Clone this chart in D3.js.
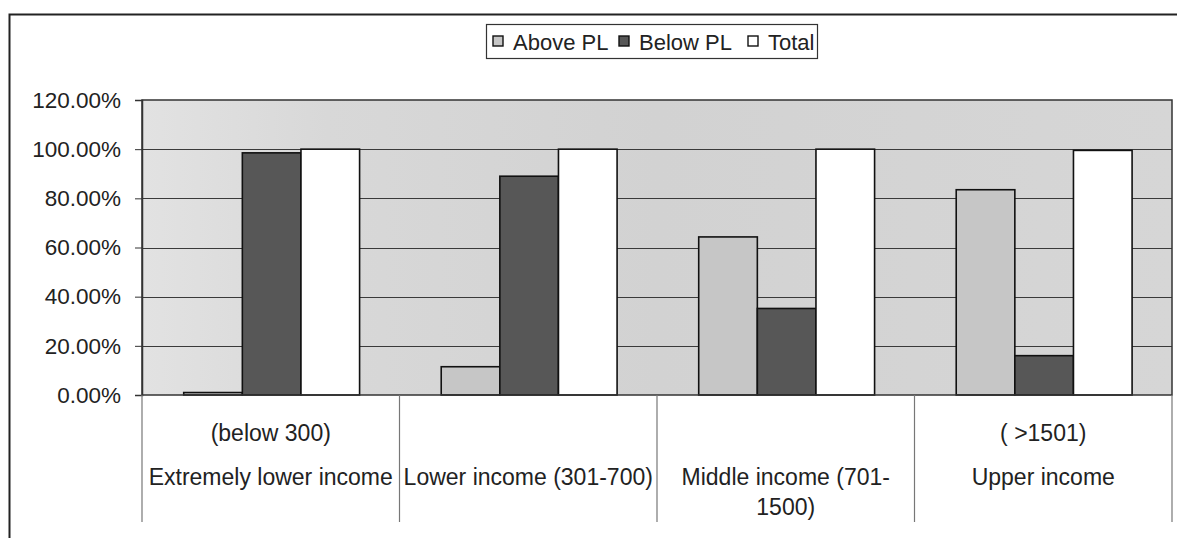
<!DOCTYPE html>
<html>
<head>
<meta charset="utf-8">
<script src="https://cdn.jsdelivr.net/npm/d3@7"></script>
<style>
  body { margin: 0; background: #fff; }
  text { font-family: "Liberation Sans", Arial, sans-serif; fill: #222; }
</style>
</head>
<body>
<div class="chart"></div>
<script>
// data
var categories = ["Extremely lower income (below 300)", "Lower income (301-700)", "Middle income (701-1500)", "Upper income ( >1501)"];
// the axis labels are wrapped oddly in the original, so keep the lines as shown
var categoryLines = [
  [["(below 300)", 0], ["Extremely lower income", 1]],
  [["Lower income (301-700)", 1]],
  [["Middle income (701-", 1], ["1500)", 2]],
  [["( >1501)", 0], ["Upper income", 1]]
];
var seriesNames = ["Above PL", "Below PL", "Total"];
var abovePL = [0.01, 0.115, 0.643, 0.835];
var belowPL = [0.985, 0.89, 0.352, 0.16];
var total = [1.0, 1.0, 1.0, 0.995];
var yTicks = [0, 0.2, 0.4, 0.6, 0.8, 1.0, 1.2];

var seriesValues = [abovePL, belowPL, total];
var colors = ["#c6c6c6", "#575757", "#ffffff"];

var svgWidth = 1177, svgHeight = 538;
var margin = { top: 100, right: 5, bottom: 143, left: 142 };
var chartWidth = 1172 - margin.left;
var chartHeight = svgHeight - margin.top - margin.bottom;

var svg = d3.select(".chart")
  .append("svg")
  .attr("width", svgWidth)
  .attr("height", svgHeight);

// outer frame (only top and left edges show in the scan)
svg.append("path")
  .attr("d", "M9.5,538 V14.5 H1177")
  .attr("fill", "none")
  .attr("stroke", "#222")
  .attr("stroke-width", 2);

var chartGroup = svg.append("g")
  .attr("transform", `translate(${margin.left}, ${margin.top})`);

var xScale = d3.scaleBand()
  .domain(categories)
  .range([0, chartWidth]);

var bw = xScale.bandwidth();
var xSub = d3.scaleBand()
  .domain(seriesNames)
  .range([bw * 0.162, bw * 0.845]);

var yScale = d3.scaleLinear()
  .domain([0, 1.2])
  .range([chartHeight, 0]);

// plot background, light grey with a softer patch on the left
var defs = svg.append("defs");
var grad = defs.append("linearGradient").attr("id", "bg");
grad.append("stop").attr("offset", "0%").attr("stop-color", "#e2e2e2");
grad.append("stop").attr("offset", "18%").attr("stop-color", "#d8d8d8");
grad.append("stop").attr("offset", "50%").attr("stop-color", "#d2d2d2");
grad.append("stop").attr("offset", "100%").attr("stop-color", "#d6d6d6");

chartGroup.append("rect")
  .attr("width", chartWidth)
  .attr("height", chartHeight)
  .attr("fill", "url(#bg)");

// gridlines
chartGroup.append("g")
  .selectAll("line")
  .data(yTicks.filter(d => d > 0 && d < 1.2))
  .enter()
  .append("line")
  .attr("x1", 0)
  .attr("x2", chartWidth)
  .attr("y1", d => Math.round(yScale(d)) + 0.5)
  .attr("y2", d => Math.round(yScale(d)) + 0.5)
  .attr("stroke", "#3a3a3a")
  .attr("stroke-width", 1);

// bars
var groups = chartGroup.selectAll(".cat")
  .data(categories)
  .enter()
  .append("g")
  .attr("transform", d => `translate(${xScale(d)}, 0)`);

groups.selectAll("rect")
  .data((d, i) => seriesNames.map((s, j) => ({ s: s, v: seriesValues[j][i], c: colors[j] })))
  .enter()
  .append("rect")
  .attr("x", d => xSub(d.s))
  .attr("width", xSub.bandwidth())
  .attr("y", d => yScale(d.v))
  .attr("height", d => chartHeight - yScale(d.v))
  .attr("fill", d => d.c)
  .attr("stroke", "#111")
  .attr("stroke-width", 1.6);

// plot border
chartGroup.append("rect")
  .attr("width", chartWidth)
  .attr("height", chartHeight)
  .attr("fill", "none")
  .attr("stroke", "#333")
  .attr("stroke-width", 1.5);

// y axis
var yAxis = d3.axisLeft(yScale)
  .tickValues(yTicks)
  .tickSize(7)
  .tickPadding(14)
  .tickFormat(d3.format(".2%"));

var yAxisG = chartGroup.append("g").call(yAxis);
yAxisG.select(".domain").attr("stroke", "#333").attr("stroke-width", 1.5);
yAxisG.selectAll(".tick line").attr("stroke", "#333");
yAxisG.selectAll("text")
  .attr("font-size", 22.5)
  .attr("fill", "#222")
  .style("font-family", "'Liberation Sans', Arial, sans-serif");

// category table below the plot
var sepG = chartGroup.append("g");
sepG.selectAll("line")
  .data(categories.concat(["end"]))
  .enter()
  .append("line")
  .attr("x1", (d, i) => i * bw)
  .attr("x2", (d, i) => i * bw)
  .attr("y1", chartHeight)
  .attr("y2", chartHeight + 127)
  .attr("stroke", "#777")
  .attr("stroke-width", 1.2);

var lineY = [38, 82, 112];
categories.forEach(function (c, i) {
  categoryLines[i].forEach(function (l) {
    chartGroup.append("text")
      .attr("x", xScale(c) + bw / 2)
      .attr("y", chartHeight + lineY[l[1]] + 8)
      .attr("text-anchor", "middle")
      .attr("font-size", 23)
      .text(l[0]);
  });
});

// legend
var legend = svg.append("g").attr("transform", "translate(486, 24)");
legend.append("rect")
  .attr("x", 0.5).attr("y", 0.5)
  .attr("width", 331).attr("height", 34)
  .attr("fill", "#fff")
  .attr("stroke", "#333")
  .attr("stroke-width", 1.2);

var legendX = [7, 133, 262];
seriesNames.forEach(function (s, i) {
  legend.append("rect")
    .attr("x", legendX[i])
    .attr("y", 12)
    .attr("width", 10)
    .attr("height", 10)
    .attr("fill", colors[i])
    .attr("stroke", "#111")
    .attr("stroke-width", 1.4);
  legend.append("text")
    .attr("x", legendX[i] + 20)
    .attr("y", 26)
    .attr("font-size", 22)
    .text(s);
});
</script>
</body>
</html>
